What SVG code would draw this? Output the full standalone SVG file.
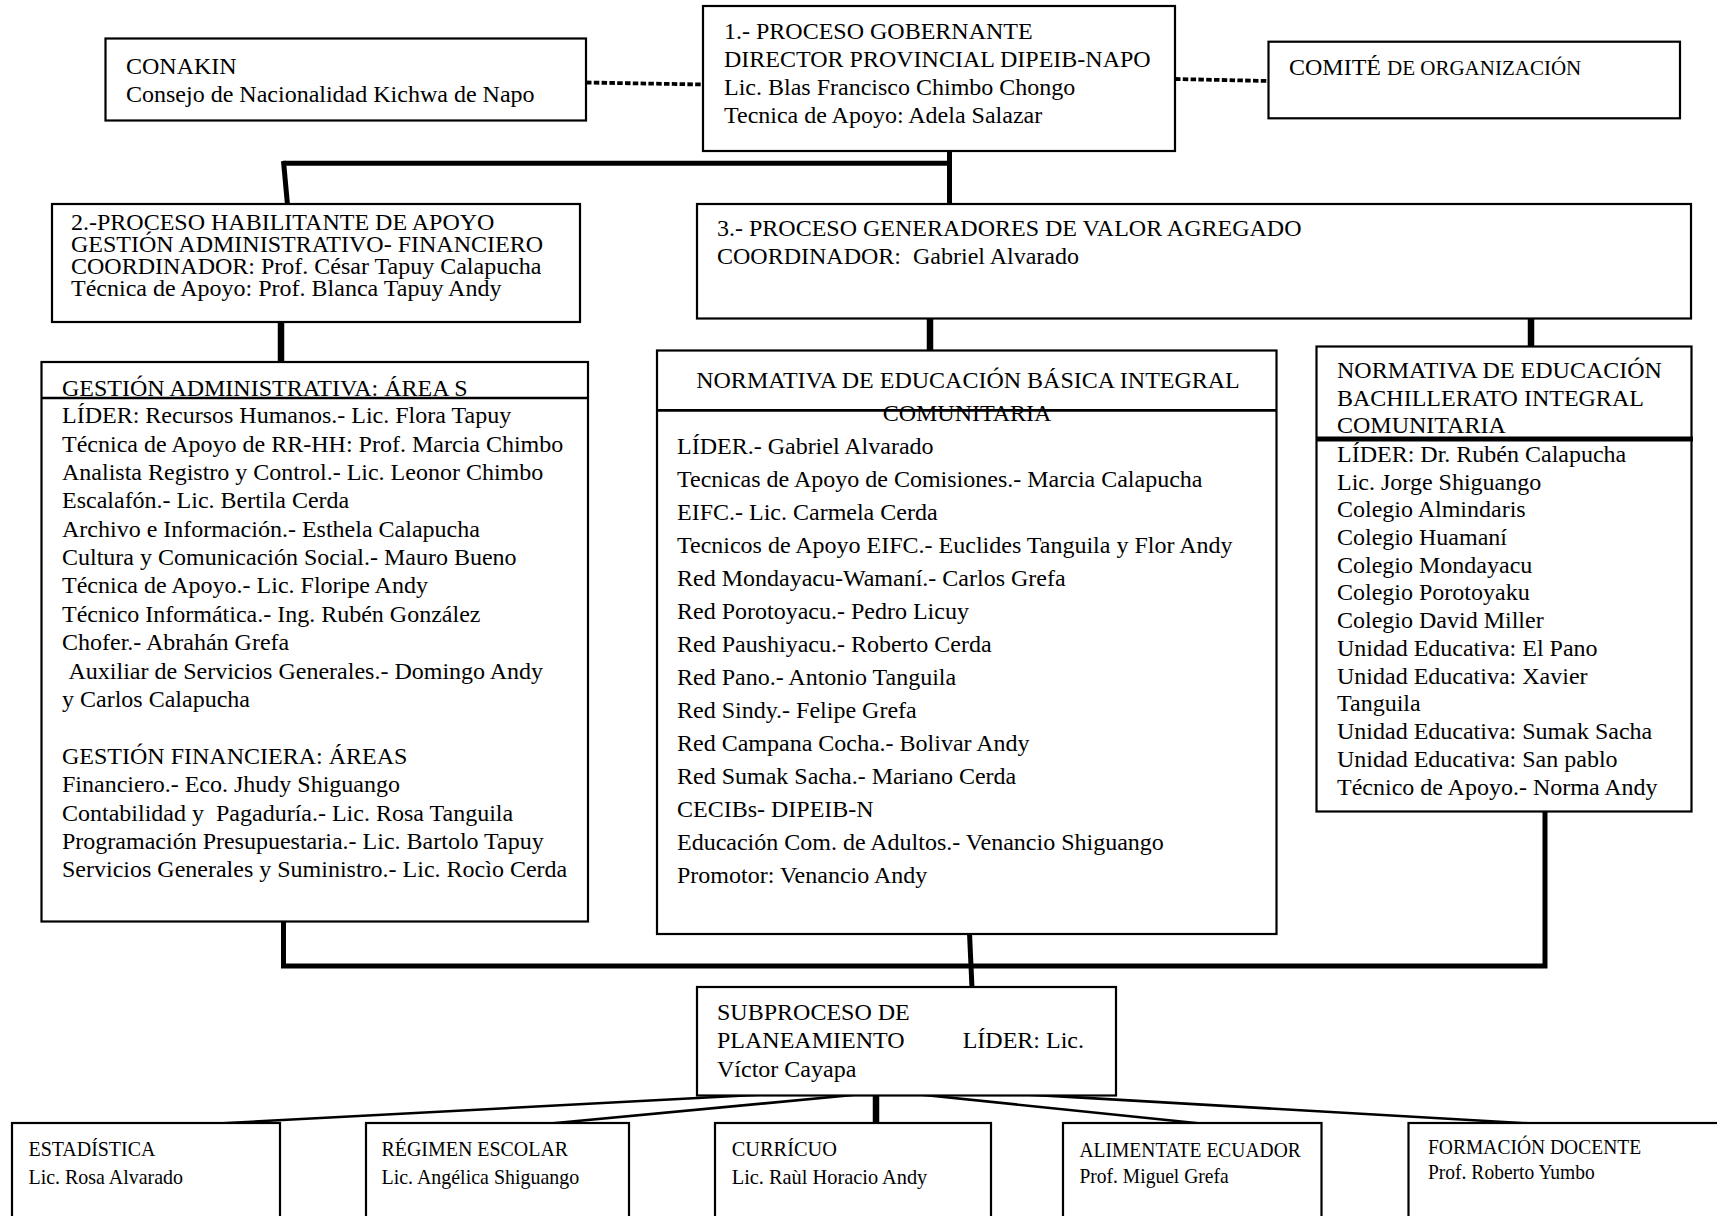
<svg xmlns="http://www.w3.org/2000/svg" width="1717" height="1216" viewBox="0 0 1717 1216">
<style>
  .box{fill:#fff;stroke:#000;stroke-width:2.2}
  .t{font-family:"Liberation Serif","Times New Roman",serif;font-size:24px;fill:#000}
  .ts{font-family:"Liberation Serif","Times New Roman",serif;font-size:21px;fill:#000}
  .sc{font-size:21px}
  .thick{stroke:#000;stroke-width:5;fill:none}
  .heavy{stroke:#000;stroke-width:6.5;fill:none}
  .thin{stroke:#000;stroke-width:2.6;fill:none}
  .dot{stroke:#000;stroke-width:3.8;fill:none;stroke-dasharray:5.5 2.3}
  .div{stroke:#000;stroke-width:2.6}
  .divb{stroke:#000;stroke-width:5}
</style>
<rect width="1717" height="1216" fill="#fff"/>

<g id="connectors">
  <line class="dot" x1="586" y1="82.5" x2="703" y2="84.5"/>
  <line class="dot" x1="1175" y1="79" x2="1268" y2="81"/>
  <line class="thick" x1="283" y1="163.3" x2="951" y2="163.3"/>
  <line class="thick" x1="949.5" y1="148" x2="949.5" y2="206"/>
  <line class="thick" x1="283.5" y1="161" x2="287.5" y2="205"/>
  <line class="heavy" x1="281" y1="322" x2="281" y2="362"/>
  <line class="heavy" x1="930" y1="318" x2="930" y2="351"/>
  <line class="heavy" x1="1531" y1="318" x2="1531" y2="347"/>
  <polyline class="thick" points="283.5,918 283.5,966 1545,966 1545,810"/>
  <line class="thick" x1="969.5" y1="933" x2="972" y2="988"/>
  <line class="thin" x1="792" y1="1093" x2="170" y2="1126"/>
  <line class="thin" x1="853" y1="1095" x2="524" y2="1126"/>
  <line class="heavy" x1="876" y1="1093" x2="876" y2="1123"/>
  <line class="thin" x1="905" y1="1093" x2="1225" y2="1126"/>
  <line class="thin" x1="967" y1="1091" x2="1573" y2="1126"/>
</g>

<g id="conakin">
  <rect class="box" x="105.5" y="38.5" width="480.5" height="82"/>
  <text class="t" x="126" y="74">CONAKIN</text>
  <text class="t" x="126" y="102">Consejo de Nacionalidad Kichwa de Napo</text>
</g>

<g id="proceso-gobernante">
  <rect class="box" x="703" y="6" width="472" height="145"/>
  <text class="t" x="724" y="39">1.- PROCESO GOBERNANTE</text>
  <text class="t" x="724" y="67">DIRECTOR PROVINCIAL DIPEIB-NAPO</text>
  <text class="t" x="724" y="95">Lic. Blas Francisco Chimbo Chongo</text>
  <text class="t" x="724" y="123">Tecnica de Apoyo: Adela Salazar</text>
</g>

<g id="comite">
  <rect class="box" x="1268.5" y="41.7" width="411.5" height="76.6"/>
  <text class="t" x="1289" y="75">COMITÉ <tspan class="sc">DE ORGANIZACIÓN</tspan></text>
</g>

<g id="proceso-habilitante">
  <rect class="box" x="52" y="204" width="528" height="118"/>
  <text class="t" x="71" y="230">2.-PROCESO HABILITANTE DE APOYO</text>
  <text class="t" x="71" y="252">GESTIÓN ADMINISTRATIVO- FINANCIERO</text>
  <text class="t" x="71" y="274">COORDINADOR: Prof. César Tapuy Calapucha</text>
  <text class="t" x="71" y="296">Técnica de Apoyo: Prof. Blanca Tapuy Andy</text>
</g>

<g id="proceso-generadores">
  <rect class="box" x="697" y="204" width="994" height="114.5"/>
  <text class="t" x="717" y="236">3.- PROCESO GENERADORES DE VALOR AGREGADO</text>
  <text class="t" x="717" y="264" xml:space="preserve">COORDINADOR:  Gabriel Alvarado</text>
</g>

<g id="gestion">
  <rect class="box" x="41.5" y="362" width="546.5" height="559.5"/>
  <line class="div" x1="41.5" y1="398" x2="588" y2="398"/>
  <text class="t" x="62" y="395.5">GESTIÓN ADMINISTRATIVA: ÁREA S</text>
  <text class="t" x="62" y="423.4">LÍDER: Recursos Humanos.- Lic. Flora Tapuy</text>
  <text class="t" x="62" y="451.7">Técnica de Apoyo de RR-HH: Prof. Marcia Chimbo</text>
  <text class="t" x="62" y="480">Analista Registro y Control.- Lic. Leonor Chimbo</text>
  <text class="t" x="62" y="508.4">Escalafón.- Lic. Bertila Cerda</text>
  <text class="t" x="62" y="536.7">Archivo e Información.- Esthela Calapucha</text>
  <text class="t" x="62" y="565">Cultura y Comunicación Social.- Mauro Bueno</text>
  <text class="t" x="62" y="593.3">Técnica de Apoyo.- Lic. Floripe Andy</text>
  <text class="t" x="62" y="622">Técnico Informática.- Ing. Rubén González</text>
  <text class="t" x="62" y="650">Chofer.- Abrahán Grefa</text>
  <text class="t" x="68.5" y="679">Auxiliar de Servicios Generales.- Domingo Andy</text>
  <text class="t" x="62" y="707.4">y Carlos Calapucha</text>
  <text class="t" x="62" y="764">GESTIÓN FINANCIERA: ÁREAS</text>
  <text class="t" x="62" y="792.3">Financiero.- Eco. Jhudy Shiguango</text>
  <text class="t" x="62" y="820.7" xml:space="preserve">Contabilidad y  Pagaduría.- Lic. Rosa Tanguila</text>
  <text class="t" x="62" y="849">Programación Presupuestaria.- Lic. Bartolo Tapuy</text>
  <text class="t" x="62" y="877.3">Servicios Generales y Suministro.- Lic. Rocìo Cerda</text>
</g>

<g id="normativa-basica">
  <rect class="box" x="657" y="350.5" width="619.5" height="583.5"/>
  <text class="t" x="968" y="388" text-anchor="middle">NORMATIVA DE EDUCACIÓN BÁSICA INTEGRAL</text>
  <text class="t" x="967" y="421" text-anchor="middle">COMUNITARIA</text>
  <line class="div" x1="657" y1="410.4" x2="1276.5" y2="410.4"/>
  <text class="t" x="677" y="454">LÍDER.- Gabriel Alvarado</text>
  <text class="t" x="677" y="487">Tecnicas de Apoyo de Comisiones.- Marcia Calapucha</text>
  <text class="t" x="677" y="520">EIFC.- Lic. Carmela Cerda</text>
  <text class="t" x="677" y="553">Tecnicos de Apoyo EIFC.- Euclides Tanguila y Flor Andy</text>
  <text class="t" x="677" y="586">Red Mondayacu-Wamaní.- Carlos Grefa</text>
  <text class="t" x="677" y="619">Red Porotoyacu.- Pedro Licuy</text>
  <text class="t" x="677" y="652">Red Paushiyacu.- Roberto Cerda</text>
  <text class="t" x="677" y="685">Red Pano.- Antonio Tanguila</text>
  <text class="t" x="677" y="718">Red Sindy.- Felipe Grefa</text>
  <text class="t" x="677" y="751">Red Campana Cocha.- Bolivar Andy</text>
  <text class="t" x="677" y="784">Red Sumak Sacha.- Mariano Cerda</text>
  <text class="t" x="677" y="817">CECIBs- DIPEIB-N</text>
  <text class="t" x="677" y="850">Educación Com. de Adultos.- Venancio Shiguango</text>
  <text class="t" x="677" y="883">Promotor: Venancio Andy</text>
</g>

<g id="normativa-bachillerato">
  <rect class="box" x="1316.5" y="346.5" width="375" height="465"/>
  <text class="t" x="1337" y="378">NORMATIVA DE EDUCACIÓN</text>
  <text class="t" x="1337" y="405.5">BACHILLERATO INTEGRAL</text>
  <text class="t" x="1337" y="433">COMUNITARIA</text>
  <line class="divb" x1="1316.5" y1="439" x2="1693" y2="439"/>
  <text class="t" x="1337" y="462">LÍDER: Dr. Rubén Calapucha</text>
  <text class="t" x="1337" y="489.5">Lic. Jorge Shiguango</text>
  <text class="t" x="1337" y="517.2">Colegio Almindaris</text>
  <text class="t" x="1337" y="545">Colegio Huamaní</text>
  <text class="t" x="1337" y="572.7">Colegio Mondayacu</text>
  <text class="t" x="1337" y="600.4">Colegio Porotoyaku</text>
  <text class="t" x="1337" y="628.1">Colegio David Miller</text>
  <text class="t" x="1337" y="655.9">Unidad Educativa: El Pano</text>
  <text class="t" x="1337" y="683.6">Unidad Educativa: Xavier</text>
  <text class="t" x="1337" y="711.3">Tanguila</text>
  <text class="t" x="1337" y="739">Unidad Educativa: Sumak Sacha</text>
  <text class="t" x="1337" y="766.8">Unidad Educativa: San pablo</text>
  <text class="t" x="1337" y="794.5">Técnico de Apoyo.- Norma Andy</text>
</g>

<g id="subproceso">
  <rect class="box" x="697" y="987" width="419" height="108.5"/>
  <text class="t" x="717" y="1020">SUBPROCESO DE</text>
  <text class="t" x="717" y="1048.3">PLANEAMIENTO<tspan x="962.7">LÍDER: Lic.</tspan></text>
  <text class="t" x="717" y="1076.7">Víctor Cayapa</text>
</g>

<g id="estadistica">
  <rect class="box" x="12" y="1123" width="268" height="110"/>
  <text class="ts" transform="translate(28.5,1156) scale(0.95,1)">ESTADÍSTICA</text>
  <text class="ts" transform="translate(28.5,1184) scale(0.95,1)">Lic. Rosa Alvarado</text>
</g>

<g id="regimen">
  <rect class="box" x="366" y="1123" width="263" height="110"/>
  <text class="ts" transform="translate(381.5,1156) scale(0.95,1)">RÉGIMEN ESCOLAR</text>
  <text class="ts" transform="translate(381.5,1183.5) scale(0.95,1)">Lic. Angélica Shiguango</text>
</g>

<g id="curricuo">
  <rect class="box" x="715" y="1123" width="276" height="110"/>
  <text class="ts" transform="translate(731.7,1155.5) scale(0.97,1)">CURRÍCUO</text>
  <text class="ts" transform="translate(731.7,1184) scale(0.97,1)">Lic. Raùl Horacio Andy</text>
</g>

<g id="alimentate">
  <rect class="box" x="1063" y="1123" width="258.5" height="110"/>
  <text class="ts" transform="translate(1079.5,1156.5) scale(0.93,1)">ALIMENTATE ECUADOR</text>
  <text class="ts" transform="translate(1079.5,1183) scale(0.93,1)">Prof. Miguel Grefa</text>
</g>

<g id="formacion">
  <rect class="box" x="1408.5" y="1123" width="330" height="110"/>
  <text class="ts" transform="translate(1428,1154) scale(0.93,1)">FORMACIÓN DOCENTE</text>
  <text class="ts" transform="translate(1428,1179) scale(0.93,1)">Prof. Roberto Yumbo</text>
</g>
</svg>
